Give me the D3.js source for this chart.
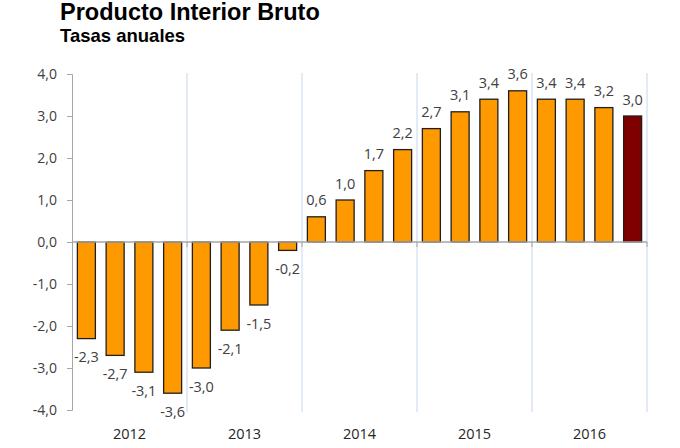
<!DOCTYPE html>
<html><head><meta charset="utf-8">
<script src="https://cdn.jsdelivr.net/npm/d3@7"></script>
<style>body{margin:0;background:#fff}svg{display:block}</style>
</head><body>
<svg id="c" width="680" height="448"></svg>
<script>
const years = ["2012","2013","2014","2015","2016"];
const quarters = ["I","II","III","IV"];
const values = [-2.3,-2.7,-3.1,-3.6, -3.0,-2.1,-1.5,-0.2, 0.6,1.0,1.7,2.2, 2.7,3.1,3.4,3.6, 3.4,3.4,3.2,3.0];
const valueLabels = ["-2,3","-2,7","-3,1","-3,6","-3,0","-2,1","-1,5","-0,2","0,6","1,0","1,7","2,2","2,7","3,1","3,4","3,6","3,4","3,4","3,2","3,0"];
const yTicks = [-4,-3,-2,-1,0,1,2,3,4];
const yTickLabels = ["-4,0","-3,0","-2,0","-1,0","0,0","1,0","2,0","3,0","4,0"];
const title = "Producto Interior Bruto";
const subtitle = "Tasas anuales";

const cats = [];
years.forEach(y => quarters.forEach(q => cats.push(y + "-" + q)));
const data = cats.map((c, i) => ({c, v: values[i], l: valueLabels[i], last: i === cats.length - 1}));

const svg = d3.select("#c");
const L = 72, R = 647, T = 74, B = 410;
const y = d3.scaleLinear().domain([-4, 4]).range([B, T]);
const x = d3.scaleBand().domain(cats).range([L, R]).paddingInner(0.374).paddingOuter(0.187);
const xy = d3.scaleBand().domain(years).range([L, R]).padding(0);

// title
svg.append("text").attr("x", 60).attr("y", 20).attr("font-family", "Liberation Sans, Arial, sans-serif")
  .attr("font-weight", "bold").attr("font-size", 23.5).attr("fill", "#000").text(title);
svg.append("text").attr("x", 60).attr("y", 42).attr("font-family", "Liberation Sans, Arial, sans-serif")
  .attr("font-weight", "bold").attr("font-size", 18.5).attr("fill", "#000").text(subtitle);

// year separators
const seps = years.map(yr => xy(yr) + xy.bandwidth());
svg.append("g").selectAll("line").data(seps).join("line")
  .attr("x1", d => d).attr("x2", d => d).attr("y1", T - 1).attr("y2", B + 2)
  .attr("stroke", "#c6d6ef").attr("stroke-width", 1);

// y axis
const yAxis = d3.axisLeft(y).tickValues(yTicks).tickFormat((d, i) => yTickLabels[i]).tickSize(5).tickPadding(10);
const gy = svg.append("g").attr("transform", `translate(${L},0)`).call(yAxis);
gy.select(".domain").attr("stroke", "#a6a6a6");
gy.selectAll(".tick line").attr("stroke", "#a6a6a6");
gy.selectAll(".tick text").attr("font-family", "Open Sans, sans-serif").attr("font-size", 14).attr("fill", "#404040");

// bars
svg.append("g").selectAll("rect").data(data).join("rect")
  .attr("x", d => x(d.c)).attr("width", x.bandwidth())
  .attr("y", d => y(Math.max(0, d.v))).attr("height", d => Math.abs(y(d.v) - y(0)))
  .attr("fill", d => d.last ? "#7f0000" : "#ff9900")
  .attr("stroke", "#1f1f1f").attr("stroke-width", 1.3);

// zero line with year ticks
svg.append("line").attr("x1", L).attr("x2", R).attr("y1", y(0)).attr("y2", y(0)).attr("stroke", "#a6a6a6").attr("stroke-width", 1.3);
svg.append("g").selectAll("line").data(seps).join("line")
  .attr("x1", d => d).attr("x2", d => d).attr("y1", y(0)).attr("y2", y(0) + 5).attr("stroke", "#a6a6a6");

// value labels
svg.append("g").selectAll("text").data(data).join("text")
  .attr("x", d => x(d.c) + x.bandwidth() / 2)
  .attr("y", d => d.v >= 0 ? y(d.v) - 11.5 : y(d.v) + 23.5)
  .attr("text-anchor", "middle").attr("font-family", "Open Sans, sans-serif").attr("font-size", 14.5)
  .attr("fill", "#404040").text(d => d.l);

// year labels
svg.append("g").selectAll("text").data(years).join("text")
  .attr("x", d => xy(d) + xy.bandwidth() / 2).attr("y", 439)
  .attr("text-anchor", "middle").attr("font-family", "Open Sans, sans-serif").attr("font-size", 14.5)
  .attr("fill", "#262626").text(d => d);
</script>
</body></html>
